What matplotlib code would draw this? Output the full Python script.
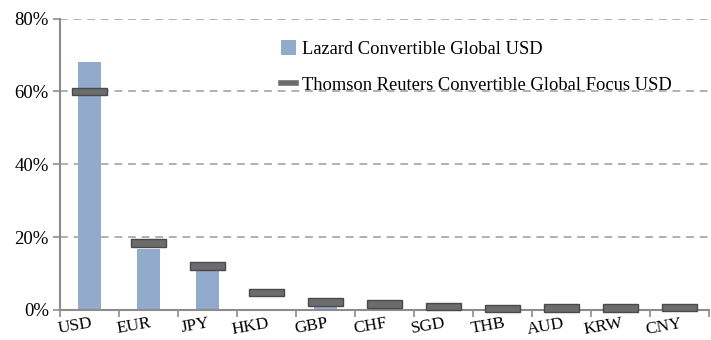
import numpy as np
import matplotlib.pyplot as plt
import matplotlib.transforms as mtransforms
from matplotlib.lines import Line2D
from matplotlib.patches import Patch

# datos
currencies = ['USD', 'EUR', 'JPY', 'HKD', 'GBP', 'CHF', 'SGD', 'THB', 'AUD', 'KRW', 'CNY']
lazard = [68.0, 16.8, 11.3, 0.0, 1.2, 0.0, 0.0, 0.0, 0.0, 0.0, 0.0]
thomson = [60.0, 18.4, 12.1, 4.8, 2.2, 1.6, 1.0, 0.4, 0.5, 0.5, 0.7]
y_ticks = [0, 20, 40, 60, 80]

plt.rcParams['font.family'] = ['Liberation Serif', 'DejaVu Serif']

fig = plt.figure(figsize=(7.11, 3.40), dpi=100)
ax = fig.add_axes([60 / 711, 1 - 310 / 340, 649 / 711, 291.5 / 340])

x = np.arange(len(currencies))
bar_color = '#92aacb'
mark_color = '#6c6c6c'

ax.bar(x, lazard, width=0.4, color=bar_color, zorder=2)

# marcadores del indice: rectangulos centrados en el valor
mark_h = 2.1
ax.bar(x, [mark_h] * len(thomson), bottom=np.array(thomson) - mark_h / 2,
       width=0.6, color=mark_color, edgecolor='#4a4a4a', linewidth=1.0,
       zorder=3, clip_on=False)

ax.set_xlim(-0.5, len(currencies) - 0.5)
ax.set_ylim(0, 80)
ax.set_yticks(y_ticks)
ax.set_yticklabels([f'{t}%' for t in y_ticks], fontsize=13.5)
ax.tick_params(axis='y', length=5, color='#8c8c8c', width=1.2, pad=3)

ax.set_xticks(x)
ax.set_xticklabels(currencies, fontsize=12.5, rotation=10, ha='right',
                   rotation_mode='anchor')
ax.tick_params(axis='x', length=0, pad=4)
ax.set_xticks(np.arange(-0.5, len(currencies)), minor=True)
ax.tick_params(axis='x', which='minor', length=5, color='#8c8c8c', width=1.2)

# desplazar etiquetas un poco a la derecha
offset = mtransforms.ScaledTranslation(1 / 100, 0, fig.dpi_scale_trans)
for lbl in ax.get_xticklabels():
    lbl.set_transform(lbl.get_transform() + offset)

ax.grid(axis='y', linestyle=(0, (4, 3)), color='#b0b0b0', linewidth=1.4, zorder=0)
for s in ['top', 'right']:
    ax.spines[s].set_visible(False)
for s in ['left', 'bottom']:
    ax.spines[s].set_color('#8c8c8c')
    ax.spines[s].set_linewidth(1.5)

handles = [Patch(facecolor=bar_color, edgecolor='none'),
           Line2D([0], [0], color=mark_color, lw=4)]
labels = ['Lazard Convertible Global USD',
          'Thomson Reuters Convertible Global Focus USD']
fig.legend(handles, labels, loc='upper left', bbox_to_anchor=(274 / 711, 1 - 33 / 340),
           frameon=False, fontsize=13.3, handlelength=0.8, handleheight=0.8,
           handletextpad=0.3, labelspacing=1.0, borderaxespad=0)

fig.savefig('out.png', dpi=100)
